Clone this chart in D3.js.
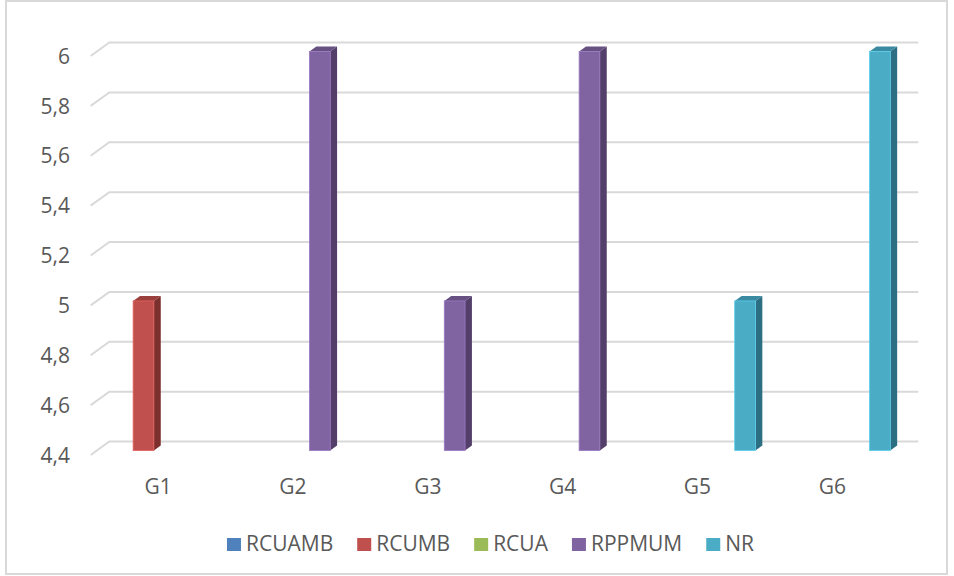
<!DOCTYPE html>
<html>
<head>
<meta charset="utf-8">
<script src="https://cdn.jsdelivr.net/npm/d3@7"></script>
<style>
  html, body { margin: 0; padding: 0; background: #fff; }
  svg { display: block; }
  text { font-family: "Open Sans", "Noto Sans", sans-serif; fill: #595959; }
</style>
</head>
<body>
<svg id="chart" width="954" height="576"></svg>
<script>
// Categories and series
const categories = ["G1", "G2", "G3", "G4", "G5", "G6"];
const seriesNames = ["RCUAMB", "RCUMB", "RCUA", "RPPMUM", "NR"];

// Values per series (null = no bar)
const RCUAMB = [null, null, null, null, null, null];
const RCUMB  = [5, null, null, null, null, null];
const RCUA   = [null, null, null, null, null, null];
const RPPMUM = [null, 6, 5, 6, null, null];
const NR     = [null, null, null, null, 5, 6];

const yTicks = [4.4, 4.6, 4.8, 5, 5.2, 5.4, 5.6, 5.8, 6];
const yTickLabels = ["4,4", "4,6", "4,8", "5", "5,2", "5,4", "5,6", "5,8", "6"];

const seriesValues = [RCUAMB, RCUMB, RCUA, RPPMUM, NR];

// Face colours: front, top, side
const palette = {
  RCUAMB: ["#4f81bd", "#3d6796", "#2f5179"],
  RCUMB:  ["#c0504d", "#9b3f3c", "#7c302e"],
  RCUA:   ["#9bbb59", "#7c9746", "#627837"],
  RPPMUM: ["#8064a2", "#675082", "#533f6a"],
  NR:     ["#4bacc6", "#3a8ba2", "#2d6f82"]
};

const fontSize = 21;
const svg = d3.select("#chart");

// Chart frame
svg.append("rect")
  .attr("x", 6).attr("y", 1).attr("width", 941).attr("height", 573)
  .attr("fill", "none").attr("stroke", "#d9d9d9").attr("stroke-width", 2);

// Front plane scales (floor front edge)
const y = d3.scaleLinear().domain([4.4, 6]).range([455, 56]);
const x0 = d3.scaleBand().domain(categories).range([90.7, 899.7]).padding(0);
const x1 = d3.scaleBand().domain(seriesNames).range([0, x0.bandwidth()])
  .paddingInner(0).paddingOuter(0.75);

// Oblique depth projection: depth 0 = front, 1 = back wall
const depthDX = 18.6, depthDY = -13.5;
const dx = d => d * depthDX;
const dy = d => d * depthDY;
const barFront = 0.33, barBack = 0.70;

// Back wall gridlines with side-wall diagonals
const grid = svg.append("g")
  .attr("fill", "none").attr("stroke", "#d9d9d9").attr("stroke-width", 2);
yTicks.forEach(t => {
  const fx = x0.range()[0], fy = y(t);
  const bx = fx + dx(1), by = fy + dy(1);
  grid.append("path")
    .attr("d", `M${fx},${fy}L${bx},${by}L${x0.range()[1] + dx(1)},${by}`);
});

// Y axis labels
svg.append("g").selectAll("text")
  .data(yTicks)
  .join("text")
  .attr("x", 70)
  .attr("y", d => y(d) + 2)
  .attr("text-anchor", "end")
  .attr("dominant-baseline", "middle")
  .attr("font-size", fontSize)
  .text((d, i) => yTickLabels[i]);

// Category labels
svg.append("g").selectAll("text")
  .data(categories)
  .join("text")
  .attr("x", d => x0(d) + x0.bandwidth() / 2)
  .attr("y", 488)
  .attr("text-anchor", "middle")
  .attr("dominant-baseline", "middle")
  .attr("font-size", fontSize)
  .text(d => d);

// 3D columns
const bars = [];
seriesNames.forEach((s, si) => {
  seriesValues[si].forEach((v, ci) => {
    if (v != null) bars.push({ series: s, cat: categories[ci], value: v });
  });
});

const ddx = dx(barBack) - dx(barFront), ddy = dy(barBack) - dy(barFront);
const barG = svg.append("g");
bars.forEach(b => {
  const [cFront, cTop, cSide] = palette[b.series];
  const xl = x0(b.cat) + x1(b.series) + dx(barFront);
  const xr = xl + x1.bandwidth();
  const yt = y(b.value) + dy(barFront);
  const yb = y(y.domain()[0]) + dy(barFront);
  const g = barG.append("g");
  // side face
  g.append("path")
    .attr("d", `M${xr},${yt}L${xr + ddx},${yt + ddy}L${xr + ddx},${yb + ddy}L${xr},${yb}Z`)
    .attr("fill", cSide);
  // top face
  g.append("path")
    .attr("d", `M${xl},${yt}L${xl + ddx},${yt + ddy}L${xr + ddx},${yt + ddy}L${xr},${yt}Z`)
    .attr("fill", cTop);
  // front face
  g.append("rect")
    .attr("x", xl).attr("y", yt)
    .attr("width", xr - xl).attr("height", yb - yt)
    .attr("fill", cFront)
    .attr("stroke", d3.color(cFront).brighter(0.5))
    .attr("stroke-width", 0.8);
});

// Legend
const legend = svg.append("g");
const items = legend.selectAll("g")
  .data(seriesNames)
  .join("g");
items.append("rect")
  .attr("width", 14).attr("height", 13)
  .attr("y", -6.5)
  .attr("fill", d => palette[d][0]);
items.append("text")
  .attr("x", 19)
  .attr("y", 1)
  .attr("dominant-baseline", "middle")
  .attr("font-size", fontSize)
  .text(d => d);
let cursor = 0;
const positions = [];
items.each(function () {
  const w = 19 + d3.select(this).select("text").node().getComputedTextLength();
  positions.push(cursor);
  cursor += w + 24;
});
const totalW = cursor - 24;
const legendStart = 490.5 - totalW / 2;
items.attr("transform", (d, i) => `translate(${legendStart + positions[i]},544.5)`);
</script>
</body>
</html>
